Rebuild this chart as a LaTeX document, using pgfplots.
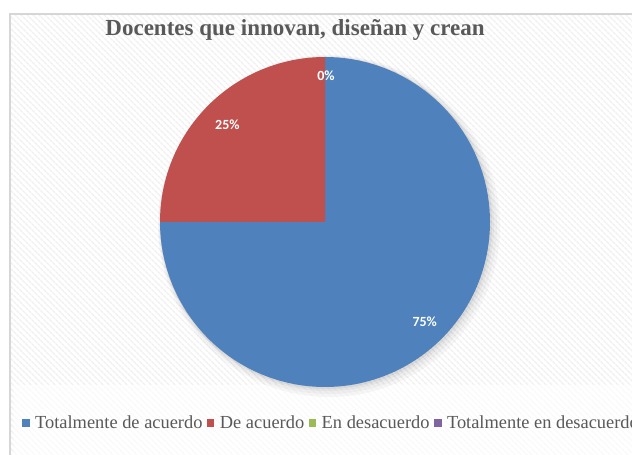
\documentclass[border=0pt]{standalone}
\usepackage{pgfplots}
\pgfplotsset{compat=1.18}
\usepackage{fontspec}
\setmainfont{Liberation Serif}
\newfontfamily\lblfont{Carlito}
\usetikzlibrary{patterns.meta}

\definecolor{cblue}{HTML}{4F81BD}
\definecolor{cred}{HTML}{C0504D}
\definecolor{cgreen}{HTML}{9BBB59}
\definecolor{cpurple}{HTML}{8064A2}
\definecolor{txtgrey}{HTML}{595959}

% shares (percent)
\def\vA{75} % Totalmente de acuerdo
\def\vB{25} % De acuerdo
\def\vC{0}  % En desacuerdo
\def\vD{0}  % Totalmente en desacuerdo

\begin{document}
\begin{tikzpicture}
\pgfmathsetmacro\aA{90-3.6*\vA}
\pgfmathsetmacro\aB{\aA-3.6*\vB}
\pgfmathsetmacro\mA{(90+\aA)/2}
\pgfmathsetmacro\mB{(\aA+\aB)/2+360}
\begin{axis}[
  at={(0,0)}, anchor=south west,
  width=632pt, height=455pt, scale only axis,
  xmin=0, xmax=632, ymin=0, ymax=455,
  hide axis, clip=false,
  legend image code/.code={\fill[#1] (0pt,-3.7pt) rectangle (7.5pt,3.7pt); \path (11pt,0pt);},
  legend style={at={(axis description cs:0.030,0.070)}, anchor=west,
    draw=none, fill=none, legend columns=-1,
    font=\fontsize{18.4}{21}\selectfont, text=txtgrey,
    /tikz/every even column/.append style={column sep=2.5pt}},
]
% background
\path[pattern={Lines[angle=-45,distance=4pt,line width=1.5pt]}, pattern color=black!6] (10,0) rectangle (632,441);
\fill[white, opacity=0.6] (14,0) rectangle (632,70);
\draw[black!16, line width=1.2pt] (10,0) -- (10,441) -- (632,441);
% soft shadow
\fill[black, opacity=0.03] (329,229) circle[radius=171];
\fill[black, opacity=0.03] (328,230) circle[radius=169];
\fill[black, opacity=0.04] (327,231) circle[radius=167];
\fill[black, opacity=0.05] (326,232) circle[radius=166];

\addplot[draw=none, fill=cblue, domain=\aA:90, samples=220]
  ({325+165*cos(x)},{233+165*sin(x)}) -- (325,233) -- cycle;
\addlegendentry{Totalmente de acuerdo}
\addplot[draw=none, fill=cred, domain=90:\aA+360, samples=80]
  ({325+165*cos(x)},{233+165*sin(x)}) -- (325,233) -- cycle;
\addlegendentry{De acuerdo}
\addlegendimage{draw=none, fill=cgreen}
\addlegendentry{En desacuerdo\hspace{6pt}}
\addlegendimage{draw=none, fill=cpurple}
\addlegendentry{Totalmente en desacuerdo}

% data labels
\node[font=\lblfont\bfseries\fontsize{14}{14}\selectfont, text=white]
  at ({325+141*cos(\mA)},{233+141*sin(\mA)}) {\vA\%};
\node[font=\lblfont\bfseries\fontsize{14}{14}\selectfont, text=white]
  at ({325+138*cos(\mB)},{233+138*sin(\mB)}) {\vB\%};
\node[font=\lblfont\bfseries\fontsize{14}{14}\selectfont, text=white]
  at (326,379) {\vC\%};

% title
\node[font=\bfseries\fontsize{23}{26}\selectfont, text=txtgrey] at (295,425)
  {Docentes que innovan, diseñan y crean};
\end{axis}
\pgfresetboundingbox
\useasboundingbox (0,0) rectangle (632pt,455pt);
\end{tikzpicture}
\end{document}
